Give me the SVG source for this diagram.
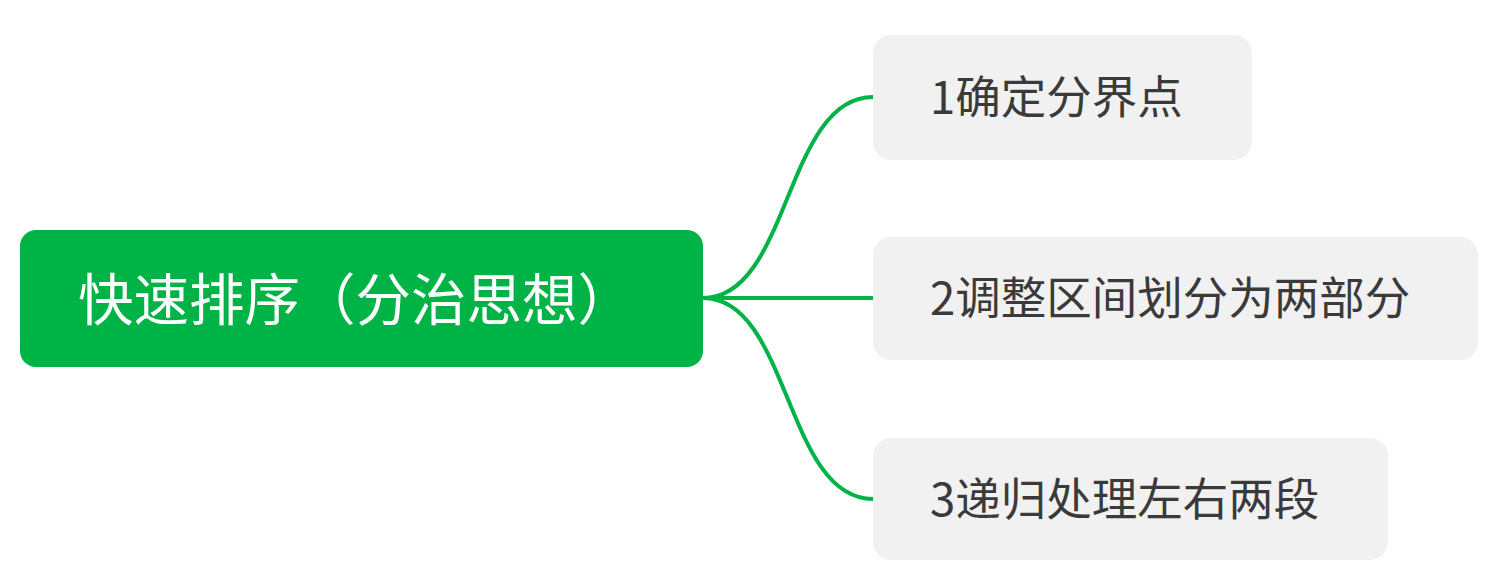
<svg xmlns="http://www.w3.org/2000/svg" width="1502" height="574" viewBox="0 0 1502 574">
<style>
.root{fill:#00b346}
.sub{fill:#f1f1f1}
.t{font-family:"Noto Sans CJK SC","Noto Sans",sans-serif}
.rt{fill:#ffffff;font-size:55.5px}
.st{fill:#3a3a3a;font-size:45.5px}
.c{fill:none;stroke:#00b346;stroke-width:4;stroke-linecap:round}
</style>
<rect width="1502" height="574" fill="#ffffff"/>
<g id="connectors">
<path class="c" d="M703 298 C790 298 785 97 873 97"/>
<path class="c" d="M703 298 L873 298"/>
<path class="c" d="M703 298 C790 298 785 499 873 499"/>
</g>
<g id="root">
<rect class="root" x="20" y="230" width="683" height="137" rx="16"/>
<text class="t rt" x="78" y="320">快速排序（分治思想）</text>
</g>
<g id="n1">
<rect class="sub" x="873" y="35" width="379" height="125" rx="18"/>
<text class="t st" x="930" y="114">1确定分界点</text>
</g>
<g id="n2">
<rect class="sub" x="873" y="237" width="605" height="123" rx="18"/>
<text class="t st" x="930" y="315">2调整区间划分为两部分</text>
</g>
<g id="n3">
<rect class="sub" x="873" y="438" width="515" height="122" rx="18"/>
<text class="t st" x="930" y="516">3递归处理左右两段</text>
</g>
</svg>
